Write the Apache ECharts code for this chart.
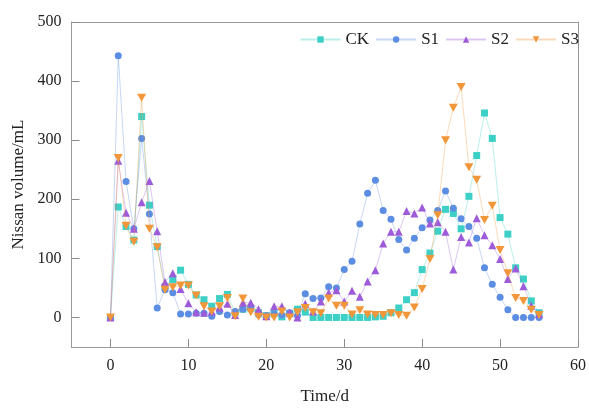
<!DOCTYPE html>
<html>
<head>
<meta charset="utf-8">
<script src="https://cdn.jsdelivr.net/npm/echarts@6/dist/echarts.min.js"></script>
<style>
html,body{margin:0;padding:0;background:#fff;}
#chart{width:589px;height:410px;}
</style>
</head>
<body>
<div id="chart"></div>
<script>
const days = [];
for (let d = 0; d <= 55; d++) days.push(d);

const seriesNames = ['CK', 'S1', 'S2', 'S3'];
const ck = [0,187,154,131,340,190,120,52,64,80,56,38,30,19,32,39,8,14,16,8,3,7,1,7,14,
  9,0,0,0,0,0,0,0,0,1,2,8,16,30,42,81,109,146,183,176,150,205,274,346,303,169,141,84,65,28,8];
const s1 = [0,443,230,150,303,175,16,47,42,6,6,7,7,2,10,4,10,14,15,5,3,6,4,8,3,
  40,32,33,52,50,81,95,158,210,232,181,166,132,114,134,152,165,181,214,185,167,154,134,84,56,34,13,0,0,0,0];
const s2 = [0,265,177,150,195,231,146,60,75,48,24,9,8,10,17,23,4,25,25,14,2,19,19,8,0,
  23,10,27,42,46,27,45,35,61,80,125,145,145,180,176,186,159,161,145,81,136,127,168,139,122,99,65,83,53,20,6];
const s3 = [0,270,155,128,372,150,119,47,51,54,54,37,19,10,19,33,2,32,9,1,0,0,10,0,9,
  16,9,7,32,20,20,5,12,5,4,4,7,4,3,17,48,99,173,300,355,390,254,233,165,189,114,75,33,28,13,4];

const xTicks = [0,10,20,30,40,50,60];
const yTicks = [0,100,200,300,400,500];

const colors = ['#3cd0c6', '#5b8de3', '#9d5bd9', '#f2963a'];
const symbols = ['rect', 'circle', 'triangle', 'path://M0,0 L10,0 L5,9 Z'];
const sizes = [7, 7, 8, [9, 8]];
const values = [ck, s1, s2, s3];

const font = 'Liberation Serif, Times New Roman, serif';
const frameColor = '#9a9a9a';

const chart = echarts.init(document.getElementById('chart'), null, {renderer: 'canvas'});
chart.setOption({
  animation: false,
  grid: {left: 71.5, right: 10.5, top: 22, bottom: 51.5, show: false},
  legend: {
    data: seriesNames,
    right: 5, top: 26,
    itemWidth: 40, itemHeight: 8, itemGap: 6,
    textStyle: {fontFamily: font, fontSize: 17, color: '#222'}
  },
  xAxis: [{
    type: 'value', min: -5, max: 60, position: 'bottom',
    name: 'Time/d', nameLocation: 'middle', nameGap: 41,
    nameTextStyle: {fontFamily: font, fontSize: 17, color: '#222'},
    axisLine: {show: true, onZero: false, lineStyle: {color: frameColor}},
    axisTick: {show: true, inside: true, length: 8, customValues: xTicks, lineStyle: {color: '#8a8a8a', width: 1}},
    axisLabel: {customValues: xTicks, fontFamily: font, fontSize: 16, color: '#222', margin: 11},
    splitLine: {show: false},
    z: 10
  }, {
    type: 'value', min: -5, max: 60, position: 'top',
    axisLine: {show: true, onZero: false, lineStyle: {color: frameColor}},
    axisTick: {show: false}, axisLabel: {show: false}, splitLine: {show: false}
  }],
  yAxis: [{
    type: 'value', min: -50, max: 500, position: 'left',
    name: 'Nissan volume/mL', nameLocation: 'middle', nameGap: 42,
    nameTextStyle: {fontFamily: font, fontSize: 17, color: '#222'},
    axisLine: {show: true, onZero: false, lineStyle: {color: frameColor}},
    axisTick: {show: true, inside: true, length: 8, customValues: yTicks, lineStyle: {color: '#8a8a8a', width: 1}},
    axisLabel: {customValues: yTicks, fontFamily: font, fontSize: 16, color: '#222', margin: 10},
    splitLine: {show: false},
    z: 10
  }, {
    type: 'value', min: -50, max: 500, position: 'right',
    axisLine: {show: true, onZero: false, lineStyle: {color: frameColor}},
    axisTick: {show: false}, axisLabel: {show: false}, splitLine: {show: false}
  }],
  series: seriesNames.map((name, i) => ({
    name: name,
    type: 'line',
    xAxisIndex: 0,
    yAxisIndex: 0,
    data: days.map((d, k) => [d, values[i][k]]),
    symbol: symbols[i],
    symbolSize: sizes[i],
    showAllSymbol: true,
    itemStyle: {color: colors[i]},
    lineStyle: {color: colors[i], width: 1, opacity: 0.35},
    z: 2 + i
  }))
});
</script>
</body>
</html>
